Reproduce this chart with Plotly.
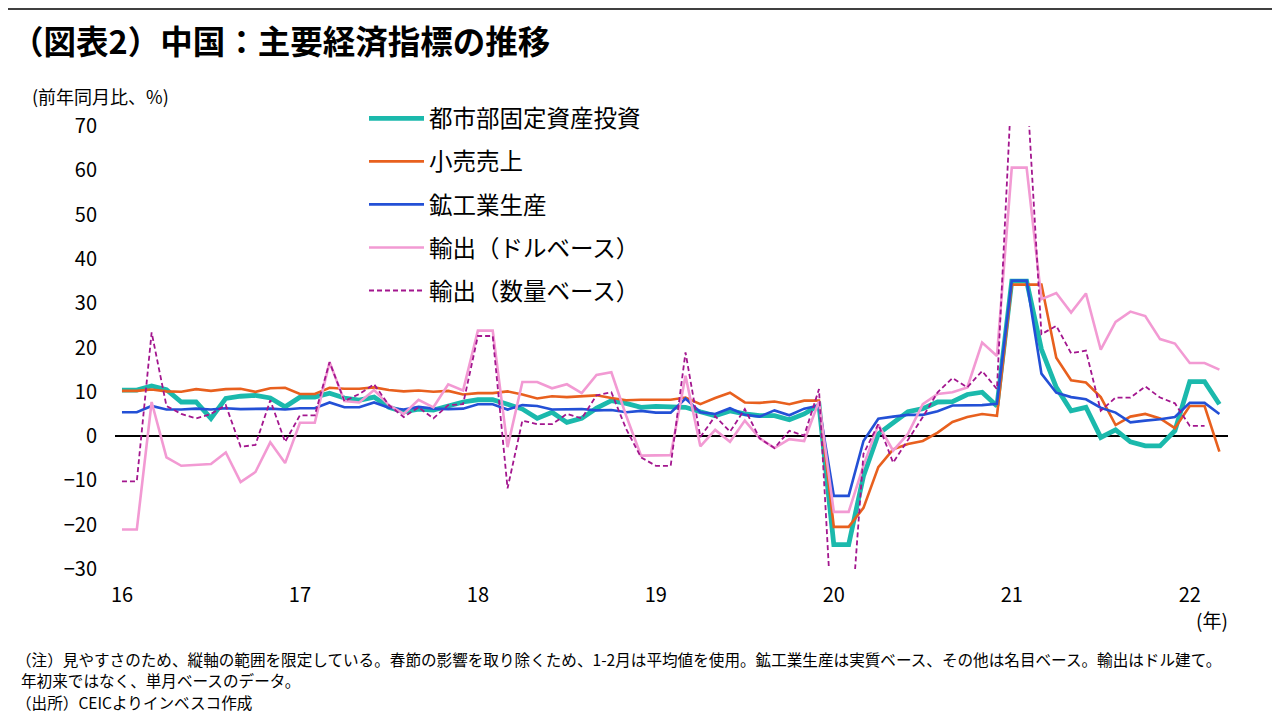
import plotly.graph_objects as go

# Month labels Jan-2016 .. Mar-2022 (Jan and Feb share the averaged value)
months = [f"{y}-{m:02d}" for y in range(2016, 2023) for m in range(1, 13)][:75]

year_ticks = ["16", "17", "18", "19", "20", "21", "22"]

fai_urban = [10.4, 10.4, 11.3, 10.5, 7.7, 7.7, 4.0, 8.5, 9.0, 9.2, 8.6, 6.6,
             8.8, 8.8, 9.7, 8.6, 8.1, 8.8, 6.5, 5.5, 6.1, 5.9, 6.8, 7.7,
             8.2, 8.2, 7.2, 6.1, 4.0, 5.4, 3.1, 4.0, 6.3, 8.0, 7.4, 6.5,
             6.7, 6.7, 6.5, 5.5, 4.6, 5.7, 5.0, 4.6, 4.6, 3.7, 5.0, 7.0,
             -24.5, -24.5, -9.0, 0.5, 3.0, 5.5, 6.2, 7.7, 7.8, 9.4, 9.9, 6.8,
             35.0, 35.0, 19.6, 11.0, 5.7, 6.5, -0.3, 1.4, -1.3, -2.2, -2.2, 1.2,
             12.3, 12.3, 7.2]

retail = [10.2, 10.2, 10.5, 10.1, 10.0, 10.6, 10.2, 10.6, 10.7, 10.0, 10.8, 10.9,
          9.5, 9.5, 10.9, 10.7, 10.7, 11.0, 10.4, 10.1, 10.3, 10.0, 10.2, 9.4,
          9.7, 9.7, 10.1, 9.4, 8.5, 9.0, 8.8, 9.0, 9.2, 8.6, 8.1, 8.2,
          8.2, 8.2, 8.7, 7.2, 8.6, 9.8, 7.6, 7.5, 7.8, 7.2, 8.0, 8.0,
          -20.5, -20.5, -16.2, -7.0, -3.0, -1.8, -1.1, 0.8, 3.2, 4.3, 5.0, 4.6,
          34.2, 34.2, 34.2, 17.7, 12.6, 12.1, 8.8, 2.5, 4.4, 5.0, 4.0, 1.8,
          6.8, 6.8, -3.5]

industrial = [5.4, 5.4, 6.8, 6.0, 6.0, 6.2, 6.0, 6.3, 6.1, 6.1, 6.2, 6.0,
              6.3, 6.3, 7.6, 6.5, 6.5, 7.6, 6.4, 6.0, 6.6, 6.2, 6.1, 6.2,
              7.2, 7.2, 6.0, 7.0, 6.8, 6.0, 6.0, 6.1, 5.8, 5.9, 5.4, 5.7,
              5.3, 5.3, 8.5, 5.4, 5.0, 6.3, 4.8, 4.4, 5.8, 4.7, 6.2, 6.9,
              -13.5, -13.5, -1.1, 3.9, 4.4, 4.8, 4.8, 5.6, 6.9, 6.9, 7.0, 7.3,
              35.1, 35.1, 14.1, 9.8, 8.8, 8.3, 6.4, 5.3, 3.1, 3.5, 3.8, 4.3,
              7.5, 7.5, 5.0]

exports_usd = [-21.1, -21.1, 7.7, -4.8, -6.7, -6.5, -6.3, -3.7, -10.4, -8.1, -1.4, -6.1,
               3.0, 3.0, 16.7, 7.9, 7.6, 10.4, 7.0, 5.0, 8.2, 6.5, 11.7, 10.3,
               23.8, 23.8, -2.5, 12.2, 12.2, 10.8, 11.7, 9.7, 13.8, 14.4, 4.6, -4.4,
               -4.3, -4.3, 13.6, -2.3, 1.4, -1.3, 3.5, -0.5, -2.7, -0.7, -1.1, 7.9,
               -17.1, -17.1, -6.7, 2.6, -3.3, 0.5, 7.2, 9.5, 9.9, 11.0, 21.1, 18.1,
               60.6, 60.6, 30.9, 32.3, 27.9, 32.2, 19.5, 25.8, 28.1, 27.1, 21.9, 20.9,
               16.5, 16.5, 15.0]

exports_volume = [-10.2, -10.2, 23.4, 6.8, 5.0, 4.0, 5.0, 7.0, -2.4, -2.0, 8.1, -1.3,
                  4.7, 4.7, 16.7, 7.9, 9.5, 11.7, 7.0, 4.3, 6.5, 4.0, 7.0, 7.2,
                  22.6, 22.6, -11.8, 3.5, 2.7, 2.7, 5.0, 4.0, 9.2, 9.9, 1.6, -4.8,
                  -6.7, -6.7, 18.9, -0.2, 4.5, 1.0, 6.1, -0.5, -2.7, 1.2, 0.1, 10.6,
                  -50.0, -50.0, -4.0, 2.7, -6.0, -0.8, 4.3, 9.9, 13.1, 11.0, 14.7, 10.6,
                  80.0, 80.0, 23.0, 24.9, 18.7, 19.3, 5.7, 8.7, 8.7, 11.2, 8.7, 7.4,
                  2.3, 2.3, None]

names = ["都市部固定資産投資", "小売売上", "鉱工業生産", "輸出（ドルベース）", "輸出（数量ベース）"]

x = list(range(len(months)))
tickvals = [months.index(f"20{t}-01") for t in year_ticks]

FONT = "Noto Sans CJK JP"

fig = go.Figure()
series = [
    (fai_urban, "#1BB9AC", 4.8, "solid"),
    (retail, "#E8601E", 2.6, "solid"),
    (industrial, "#2350D6", 2.6, "solid"),
    (exports_usd, "#F29AD3", 2.6, "solid"),
    (exports_volume, "#A3168E", 1.8, "5px,3px"),
]
for (vals, color, w, dash), name in zip(series, names):
    fig.add_trace(go.Scatter(
        x=x, y=vals, name=name, mode="lines",
        line=dict(color=color, width=w, dash=dash),
        legendgroup=name, connectgaps=False,
    ))

# The page body adds an 8px margin, so work in page pixels and convert.
OFF = 8
FW, FH = 1280 - OFF, 720 - OFF
PLOT_L, PLOT_R, PLOT_T, PLOT_B = 115, 1228, 126, 569   # page pixels
L = PLOT_L - OFF
R = FW - (PLOT_R - OFF)
T = PLOT_T - OFF
B = FH - (PLOT_B - OFF)
PW, PH = PLOT_R - PLOT_L, PLOT_B - PLOT_T


def px_x(px):
    return (px - PLOT_L) / PW


def px_y(py):
    return (PLOT_B - py) / PH


fig.update_layout(
    width=FW, height=FH,
    paper_bgcolor="white", plot_bgcolor="white",
    margin=dict(l=L, r=R, t=T, b=B),
    font=dict(family=FONT, color="#000000"),
    showlegend=True,
    legend=dict(
        x=px_x(364), y=px_y(96.5), xanchor="left", yanchor="top",
        font=dict(size=23.5, family=FONT, color="#000000"),
        bgcolor="rgba(0,0,0,0)", itemwidth=55, tracegroupgap=9.5,
        traceorder="grouped",
    ),
    xaxis=dict(
        range=[-0.47, 74.58], tickmode="array", tickvals=tickvals, ticktext=year_ticks,
        showgrid=False, zeroline=False, showline=False, ticks="",
        tickfont=dict(size=20, family=FONT, color="#000000"),
        ticklabelstandoff=12,
    ),
    yaxis=dict(
        range=[-30, 70], tickmode="array", tickvals=list(range(-30, 71, 10)),
        showgrid=False, zeroline=True, zerolinecolor="#000000", zerolinewidth=2.2,
        showline=False, ticks="",
        tickfont=dict(size=20, family=FONT, color="#000000"),
        ticklabelstandoff=17,
    ),
)

# thin border line across the top of the page
fig.add_shape(type="line", xref="paper", yref="paper",
              x0=px_x(OFF), x1=px_x(1280), y0=px_y(OFF + 1), y1=px_y(OFF + 1),
              line=dict(color="black", width=1.5))

annotations = [
    dict(text="<b>（図表2）中国：主要経済指標の推移</b>", x=px_x(9), y=px_y(39),
         xanchor="left", yanchor="middle", font=dict(size=32.5, family=FONT)),
    dict(text="(前年同月比、%)", x=px_x(30), y=px_y(96),
         xanchor="left", yanchor="middle", font=dict(size=18, family=FONT)),
    dict(text="(年)", x=px_x(1212), y=px_y(619),
         xanchor="center", yanchor="middle", font=dict(size=19, family=FONT)),
    dict(text="（注）見やすさのため、縦軸の範囲を限定している。春節の影響を取り除くため、1-2月は平均値を使用。鉱工業生産は実質ベース、その他は名目ベース。輸出はドル建て。",
         x=px_x(14), y=px_y(659), xanchor="left", yanchor="middle",
         font=dict(size=15.6, family=FONT)),
    dict(text="年初来ではなく、単月ベースのデータ。", x=px_x(19), y=px_y(680),
         xanchor="left", yanchor="middle", font=dict(size=15.6, family=FONT)),
    dict(text="（出所）CEICよりインベスコ作成", x=px_x(14), y=px_y(702),
         xanchor="left", yanchor="middle", font=dict(size=15.6, family=FONT)),
]
for a in annotations:
    a.update(xref="paper", yref="paper", showarrow=False)
fig.update_layout(annotations=annotations)

fig.write_html("out.html")
